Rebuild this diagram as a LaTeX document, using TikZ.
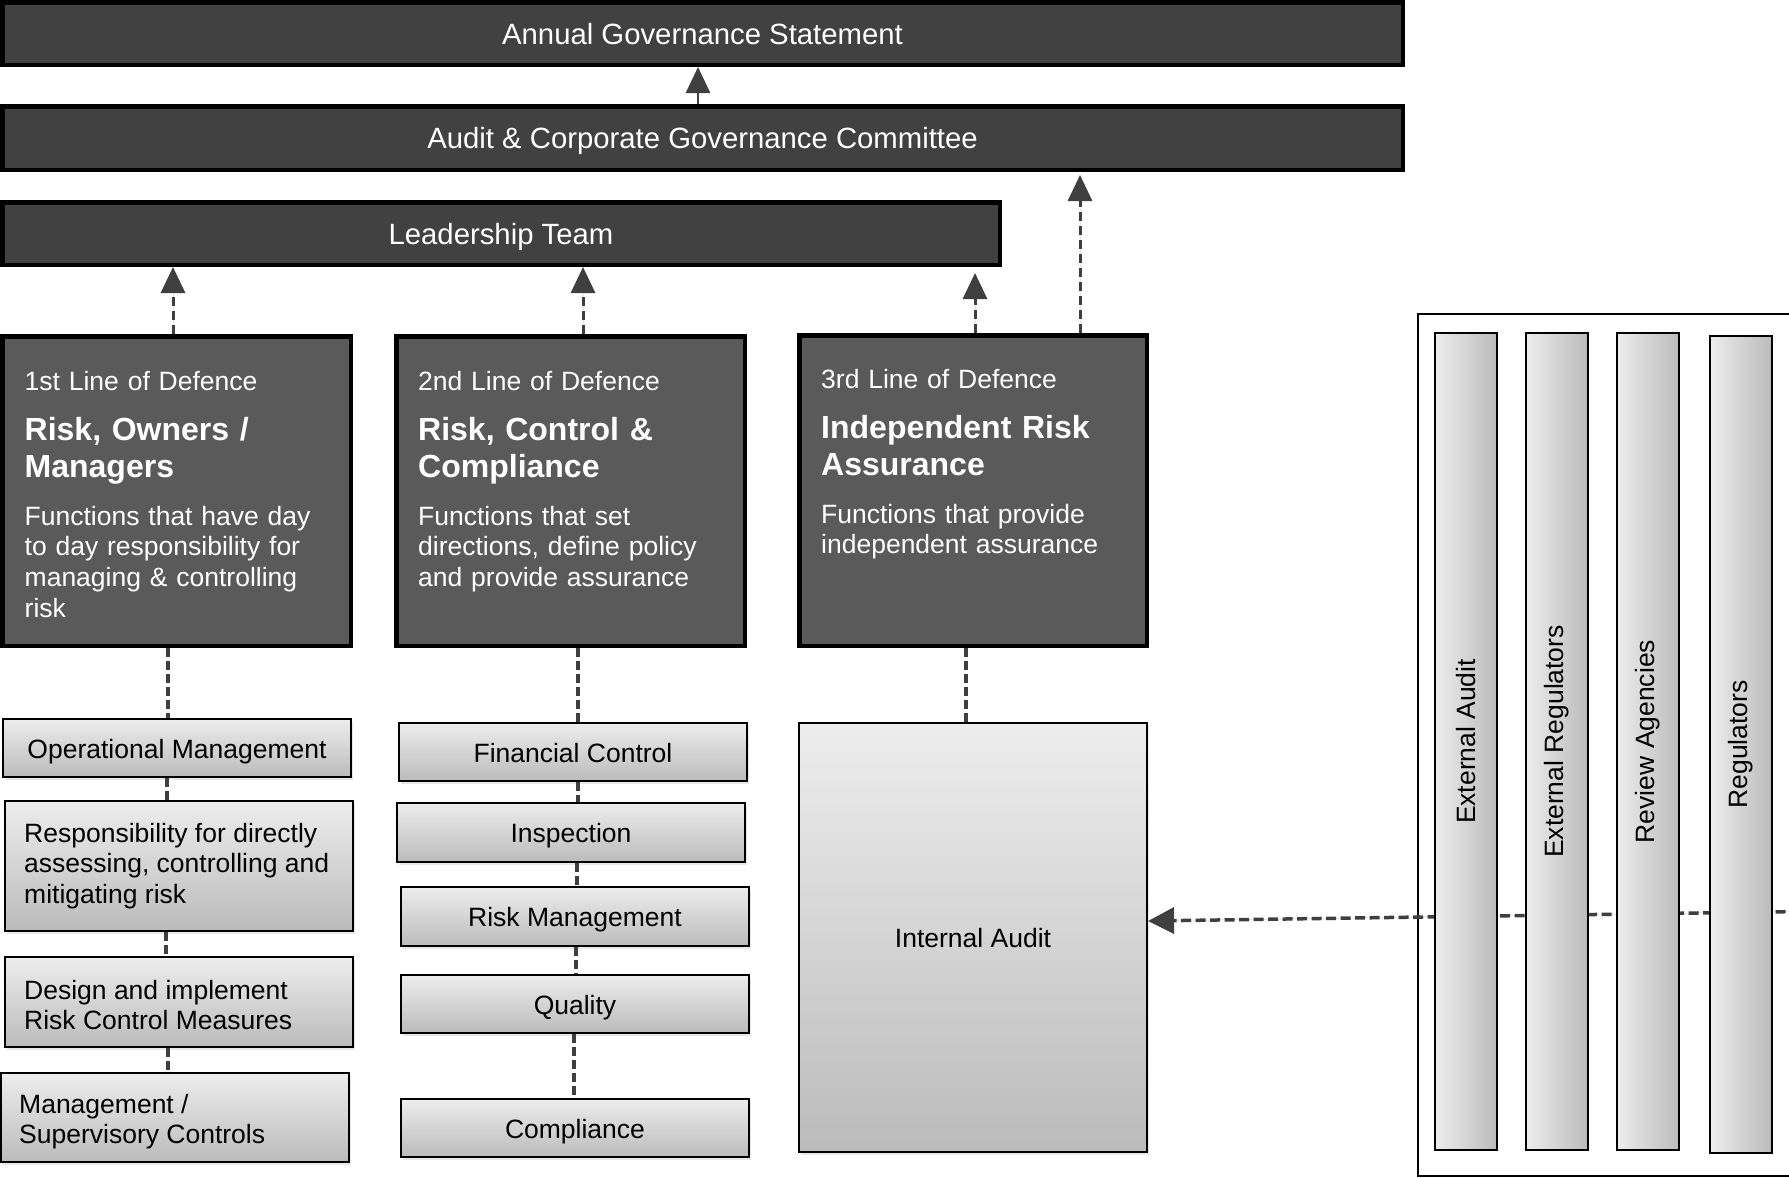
\documentclass[tikz,border=0pt]{standalone}
\usepackage{fontspec}
\setmainfont{Liberation Sans}
\usetikzlibrary{arrows.meta,shadows,calc}
\definecolor{darkfill}{HTML}{414141}
\definecolor{lodfill}{HTML}{5A5A5A}
\definecolor{arrowc}{HTML}{3F3F3F}
\definecolor{gtop}{HTML}{EDEDED}
\definecolor{gbot}{HTML}{BBBBBB}
\begin{document}
\begin{tikzpicture}[x=1pt,y=-1pt,
  topbox/.style={draw=black, line width=4.5pt, fill=darkfill, text=white,
    font=\fontsize{29.3}{34}\selectfont, inner sep=0pt, text height=25pt, text depth=4pt},
  lodbox/.style={draw=black, line width=4.5pt, fill=lodfill, inner sep=0pt},
  lodhead/.style={anchor=base west, inner sep=0pt, text=white, text width=322pt, align=left,
    font=\fontsize{26.5}{30.7}\selectfont},
  lodtitle/.style={anchor=base west, inner sep=0pt, text=white, text width=322pt, align=left,
    font=\fontsize{32}{37}\selectfont\bfseries},
  lodbody/.style={anchor=base west, inner sep=0pt, text=white, text width=322pt, align=left,
    font=\fontsize{26.5}{30.7}\selectfont},
  gbox/.style={draw=black, line width=2pt, top color=gtop, bottom color=gbot,
    font=\fontsize{26.5}{30.7}\selectfont, inner sep=0pt, text height=24pt, text depth=4pt,
    drop shadow={shadow xshift=1.5pt, shadow yshift=-3pt, opacity=0.18}},
  gtext/.style={anchor=west, inner sep=0pt, align=left, font=\fontsize{26.5}{30.7}\selectfont},
  vbar/.style={draw=black, line width=2pt, left color=gtop, right color=gbot, inner sep=0pt,
    minimum width=62pt, minimum height=817pt},
  vtext/.style={rotate=90, inner sep=0pt, font=\fontsize{26.5}{30.7}\selectfont},
  uparrow/.style={draw=arrowc, line width=3pt, dash pattern=on 9pt off 5pt,
    -{Triangle[length=26pt,width=24pt]}, fill=arrowc},
  solidarrow/.style={draw=arrowc, line width=2.5pt, -{Triangle[length=26pt,width=24pt]}, fill=arrowc},
  link/.style={draw=arrowc, line width=3.5pt, dash pattern=on 9pt off 4pt},
  extarrow/.style={draw=arrowc, line width=3.5pt, dash pattern=on 10pt off 4.5pt,
    -{Triangle[length=26pt,width=26pt]}, fill=arrowc},
]
\useasboundingbox (0,0) rectangle (1789,1178);
\clip (0,0) rectangle (1789,1178);
\fill[white] (0,0) rectangle (1789,1178);

% top boxes
\node[topbox, minimum width=1400.5pt, minimum height=62.5pt] (ags) at (702.5,33.5) {Annual Governance Statement};
\node[topbox, minimum width=1400.5pt, minimum height=63.5pt] (acgc) at (702.5,138) {Audit \& Corporate Governance Committee};
\node[topbox, minimum width=997.5pt, minimum height=62.5pt] (lt) at (501,233.5) {Leadership Team};

% lines of defence
\node[lodbox, minimum width=348.5pt, minimum height=309.5pt] (lod1) at (176.5,491) {};
\node[lodbox, minimum width=348.5pt, minimum height=309.5pt] (lod2) at (570.5,491) {};
\node[lodbox, minimum width=347.5pt, minimum height=310.5pt] (lod3) at (973,490.5) {};

\node[lodhead] (l1h) at (24.5,390) {1st Line of Defence};
\node[lodtitle] (l1t) at (24.5,440) {Risk, Owners /\\Managers};
\node[lodbody] (l1b) at (24.5,525) {Functions that have day\\to day responsibility for\\managing \& controlling\\risk};

\node[lodhead] (l2h) at (418,390) {2nd Line of Defence};
\node[lodtitle] (l2t) at (418,440) {Risk, Control \&\\Compliance};
\node[lodbody] (l2b) at (418,525) {Functions that set\\directions, define policy\\and provide assurance};

\node[lodhead] (l3h) at (821,388) {3rd Line of Defence};
\node[lodtitle] (l3t) at (821,438) {Independent Risk\\Assurance};
\node[lodbody] (l3b) at (821,523) {Functions that provide\\independent assurance};

% upward arrows
\coordinate (k0) at ([xshift=-4.5pt]acgc.north);
\draw[solidarrow] (k0) -- (k0 |- ags.south);
\coordinate (k1) at ([xshift=-3.5pt]lod1.north);
\draw[uparrow] (k1) -- (k1 |- lt.south);
\coordinate (k2) at ([xshift=12.5pt]lod2.north);
\draw[uparrow] (k2) -- (k2 |- lt.south);
\coordinate (k3) at ([xshift=2pt]lod3.north);
\draw[uparrow, shorten >=6pt] (k3) -- (k3 |- lt.south);
\coordinate (k4) at ([xshift=107pt]lod3.north);
\draw[uparrow, shorten >=3pt] (k4) -- (k4 |- acgc.south);

% column 1
\node[gbox, minimum width=348pt, minimum height=58pt] (om) at (177,748) {Operational Management};
\node[gbox, minimum width=348pt, minimum height=130pt] (resp) at (179,866) {};
\node[gtext] (resptxt) at ([xshift=20pt]resp.west) {Responsibility for directly\\assessing, controlling and\\mitigating risk};
\node[gbox, minimum width=348pt, minimum height=90pt] (design) at (179,1002) {};
\node[gtext] (designtxt) at ([xshift=20pt,yshift=-3pt]design.west) {Design and implement\\Risk Control Measures};
\node[gbox, minimum width=348pt, minimum height=89pt] (msc) at (175,1117.5) {};
\node[gtext] (msctxt) at ([xshift=19pt,yshift=-4pt]msc.west) {Management /\\Supervisory Controls};

% column 2
\node[gbox, minimum width=348pt, minimum height=58pt] (fc) at (573,752) {Financial Control};
\node[gbox, minimum width=348pt, minimum height=59pt] (insp) at (571,832.5) {Inspection};
\node[gbox, minimum width=348pt, minimum height=59pt] (rm) at (575,916.5) {Risk Management};
\node[gbox, minimum width=348pt, minimum height=58pt] (qual) at (575,1004) {Quality};
\node[gbox, minimum width=348pt, minimum height=58pt] (comp) at (575,1128) {Compliance};

% column 3
\node[gbox, minimum width=348pt, minimum height=429pt] (ia) at (973,937.5) {Internal Audit};

% dashed links
\coordinate (c1) at ([xshift=-8.5pt]lod1.south);
\draw[link] (c1) -- (c1 |- om.north);
\coordinate (c2) at ([xshift=-10pt]om.south);
\draw[link] (c2) -- (c2 |- resp.north);
\coordinate (c3) at ([xshift=-13pt]resp.south);
\draw[link] (c3) -- (c3 |- design.north);
\coordinate (c4) at ([xshift=-11pt]design.south);
\draw[link] (c4) -- (c4 |- msc.north);
\coordinate (d1) at ([xshift=7.5pt]lod2.south);
\draw[link] (d1) -- (d1 |- fc.north);
\coordinate (d2) at ([xshift=5pt]fc.south);
\draw[link] (d2) -- (d2 |- insp.north);
\coordinate (d3) at ([xshift=6pt]insp.south);
\draw[link] (d3) -- (d3 |- rm.north);
\coordinate (d4) at ([xshift=1pt]rm.south);
\draw[link] (d4) -- (d4 |- qual.north);
\coordinate (d5) at ([xshift=-1pt]qual.south);
\draw[link] (d5) -- (d5 |- comp.north);
\coordinate (e1) at ([xshift=-7pt]lod3.south);
\draw[link] (e1) -- (e1 |- ia.north);

% external assurance panel
\draw[black, line width=1.5pt, fill=white] (1418,314) rectangle (1850,1176);
\coordinate (ext) at (1800,911.5);
\coordinate (iain) at ($(ia.east)+(0,-16.5)$);
\draw[extarrow] (ext) -- (iain);

\node[vbar] (ea) at (1466,741.5) {};
\node[vbar] (er) at (1556.5,741.5) {};
\node[vbar] (ra) at (1648,741.5) {};
\node[vbar] (rg) at (1740.5,744.5) {};
\node[vtext] (eat) at (ea.center) {External Audit};
\node[vtext] (ert) at (er.center) {External Regulators};
\node[vtext] (rat) at (ra.center) {Review Agencies};
\node[vtext] (rgt) at (rg.center) {Regulators};
\end{tikzpicture}
\end{document}
